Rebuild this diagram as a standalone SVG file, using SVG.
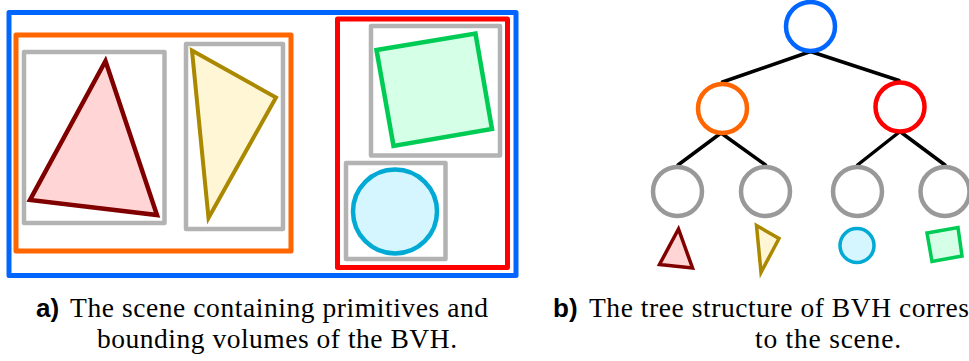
<svg xmlns="http://www.w3.org/2000/svg" width="969" height="361" viewBox="0 0 969 361">
<style>
.box{fill:none;stroke-linejoin:round}
.bv{stroke:#b3b3b3;stroke-width:4.5}
.tri1{fill:#ffd5d5;stroke:#800000;stroke-linejoin:miter}
.tri2{fill:#fff6d5;stroke:#aa8800;stroke-linejoin:miter}
.sq{fill:#d5ffe6;stroke:#00cc55;stroke-linejoin:miter}
.circ{fill:#d5f6ff;stroke:#00aad4}
.node{fill:#ffffff;stroke-width:4.5}
.edge{stroke:#000000;stroke-width:3.5;stroke-linecap:round}
.cap{font-family:"Liberation Serif","Times New Roman",serif;font-size:27.5px;fill:#000}
.lab{font-family:"Liberation Sans",Arial,sans-serif;font-weight:bold;font-size:26px;fill:#000}
</style>
<rect width="969" height="361" fill="#ffffff"/>
<g id="scene">
  <g id="bv-root"><rect class="box" x="9" y="12.5" width="507" height="263" stroke="#0066ff" stroke-width="5"/></g>
  <g id="bv-left"><rect class="box" x="16" y="35" width="275" height="216" stroke="#ff6600" stroke-width="5"/></g>
  <g id="bv-right"><rect class="box" x="337.5" y="19" width="170" height="248.5" stroke="#ff0000" stroke-width="5"/></g>
  <g id="bv-tri1"><rect class="box bv" x="24" y="52" width="140.5" height="171"/></g>
  <g id="bv-tri2"><rect class="box bv" x="186" y="44" width="97" height="185"/></g>
  <g id="bv-square"><rect class="box bv" x="371" y="26" width="129" height="129.5"/></g>
  <g id="bv-circle"><rect class="box bv" x="346" y="163" width="99.5" height="96"/></g>
  <g id="prim-tri1"><polygon class="tri1" stroke-width="4.5" points="105.5,61 30,200 157,215"/></g>
  <g id="prim-tri2"><polygon class="tri2" stroke-width="4" points="192,50.5 276,97.5 208.5,218"/></g>
  <g id="prim-square"><polygon class="sq" stroke-width="4.5" points="376.5,50 475.5,33.5 492,129 393.5,146"/></g>
  <g id="prim-circle"><circle class="circ" cx="395" cy="211.5" r="42" stroke-width="4.5"/></g>
</g>
<g id="connectors">
  <line class="edge" x1="810.5" y1="51.5" x2="722.5" y2="82"/>
  <line class="edge" x1="810.5" y1="51.5" x2="899" y2="80.5"/>
  <line class="edge" x1="721" y1="133" x2="678" y2="165"/>
  <line class="edge" x1="721" y1="133" x2="765.5" y2="165"/>
  <line class="edge" x1="900" y1="131.5" x2="857.5" y2="165"/>
  <line class="edge" x1="900" y1="131.5" x2="945" y2="165"/>
</g>
<g id="node-root"><circle class="node" cx="810.5" cy="26.5" r="24.5" stroke="#0066ff"/></g>
<g id="node-left"><circle class="node" cx="722.5" cy="108.5" r="24.5" stroke="#ff6600"/></g>
<g id="node-right"><circle class="node" cx="900" cy="107" r="24.5" stroke="#ff0000"/></g>
<g id="leaf-1"><circle class="node" cx="677.5" cy="191.5" r="24.5" stroke="#999999"/></g>
<g id="leaf-2"><circle class="node" cx="765.5" cy="191.5" r="24.5" stroke="#999999"/></g>
<g id="leaf-3"><circle class="node" cx="857.5" cy="191.5" r="24.5" stroke="#999999"/></g>
<g id="leaf-4"><circle class="node" cx="945" cy="191.5" r="24.5" stroke="#999999"/></g>
<g id="leaf-prim-1"><polygon class="tri1" stroke-width="3.5" points="678.5,229 659.5,264.5 692.5,268"/></g>
<g id="leaf-prim-2"><polygon class="tri2" stroke-width="3.5" points="756.5,225.5 779,238.5 761,272.5"/></g>
<g id="leaf-prim-3"><circle class="circ" cx="857" cy="245.5" r="17" stroke-width="3.5"/></g>
<g id="leaf-prim-4"><polygon class="sq" stroke-width="3.5" points="927,233 958,227.5 962,256 932,261.5"/></g>
<g id="caption-a">
  <text class="lab" x="36" y="317">a)</text>
  <text class="cap" x="70" y="317" textLength="418" lengthAdjust="spacing">The scene containing primitives and</text>
  <text class="cap" x="97" y="348" textLength="360" lengthAdjust="spacing">bounding volumes of the BVH.</text>
</g>
<g id="caption-b">
  <text class="lab" x="553" y="317">b)</text>
  <text class="cap" x="589" y="317" textLength="380" lengthAdjust="spacing">The tree structure of BVH corres</text>
  <text class="cap" x="755" y="348" textLength="146" lengthAdjust="spacing">to the scene.</text>
</g>
</svg>
